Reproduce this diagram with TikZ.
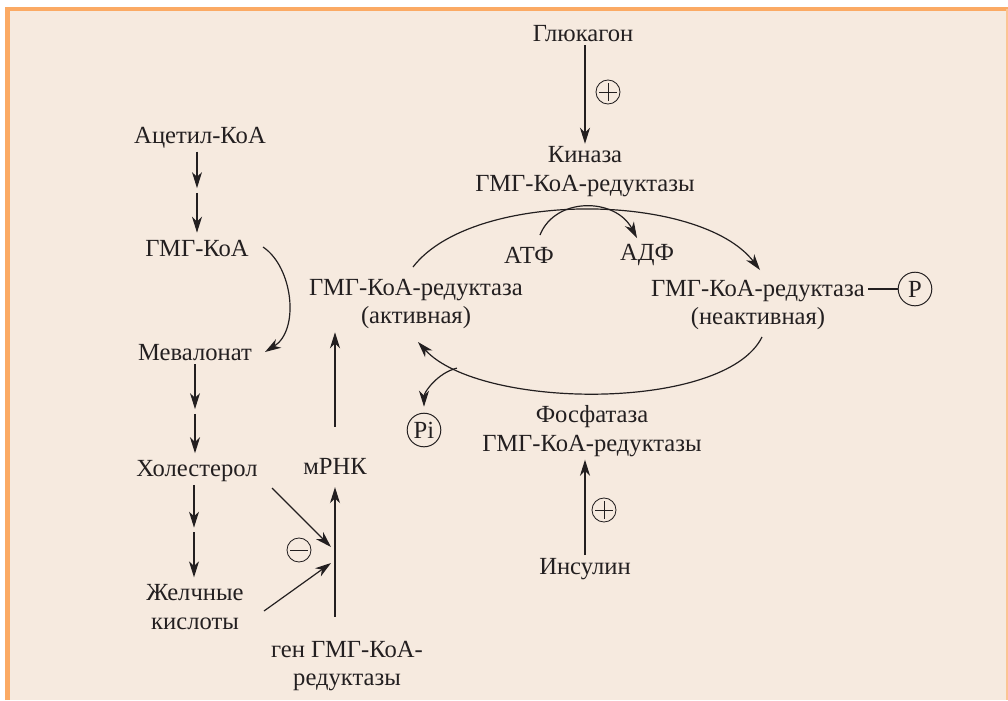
\documentclass[tikz,border=0pt]{standalone}
\usepackage{fontspec}
\setmainfont{Liberation Serif}
\usetikzlibrary{calc, positioning, arrows.meta}
\definecolor{FrameColour}{RGB}{251,170,100}
\definecolor{paper}{RGB}{246,234,223}
\definecolor{ink}{RGB}{35,31,32}

\begin{document}
\begin{tikzpicture}[
  x=0.025cm, y=-0.025cm,
  font=\fontsize{17.5}{20.5}\selectfont,
  text=ink,
  metab/.style={inner sep=2pt, align=center},
  arr/.style={draw=ink, line width=0.85pt, -{Stealth[length=0.4cm, width=0.25cm, inset=0.12cm]}},
  conn/.style={draw=ink, line width=0.85pt},
  sign/.style={circle, draw=ink, line width=0.6pt, minimum size=0.6cm, inner sep=0pt},
  signplus/.style={sign, path picture={
    \draw[ink, line width=0.6pt]
      ([xshift=0.08cm]path picture bounding box.west) -- ([xshift=-0.08cm]path picture bounding box.east)
      ([yshift=-0.08cm]path picture bounding box.north) -- ([yshift=0.08cm]path picture bounding box.south);}},
  signminus/.style={sign, path picture={
    \draw[ink, line width=0.6pt]
      ([xshift=0.08cm]path picture bounding box.west) -- ([xshift=-0.08cm]path picture bounding box.east);}},
  phosgroup/.style={circle, draw=ink, line width=0.7pt, inner sep=1pt, minimum size=0.84cm}
]
\useasboundingbox (0,0) rectangle (1008,700);

% Panel
\fill[paper] (7.5,9) rectangle (1008,700);
\draw[FrameColour, line width=0.11cm] (7.5,700) -- (7.5,9) -- (1008,9);
\draw[FrameColour!70, line width=0.04cm] (1007,9) -- (1007,700);

% Synthesis pathway
\node[metab] (acetyl) at (200,138) {Ацетил-КоА};
\node[metab] (hmgcoa) at (197,248) {ГМГ-КоА};
\node[metab] (mev) at (195,353) {Мевалонат};
\node[metab] (chol) at (197,471) {Холестерол};
\node[metab] (bile) at (195,607) {Желчные\\кислоты};

\coordinate (s1) at (197,190.5);
\coordinate (s2) at (195,411.5);
\coordinate (s3) at (194,530);
\draw[arr, shorten >=0.06cm] (acetyl.south -| s1) -- (s1);
\draw[arr, shorten <=0.06cm, shorten >=0.1cm] (s1) -- (hmgcoa.north -| s1);
\draw[arr] ([shift={(66,-1)}]hmgcoa.center) .. controls +(30,20) and +(35,-22) .. ([shift={(70,-1)}]mev.center);
\draw[arr, shorten >=0.06cm] (mev.south -| s2) -- (s2);
\draw[arr, shorten <=0.06cm, shorten >=0.1cm] (s2) -- (chol.north -| s2);
\draw[arr, shorten >=0.06cm] (chol.south -| s3) -- (s3);
\draw[arr, shorten <=0.06cm, shorten >=0.1cm] (s3) -- (bile.north -| s3);

% Gene expression
\node[metab] (mrna) at (335,466) {мРНК};
\node[metab] (gene) at (347,666) {ген ГМГ-КоА-\\редуктазы};
\node[signminus] (minus) at (299,550) {};
\coordinate (inh1) at (331,547);
\coordinate (inh2) at (331,563);
\draw[arr, shorten <=0.52cm, shorten >=0.25cm] (gene.north -| mrna) -- (mrna.south);
\draw[arr] ([shift={(75,17)}]chol.center) -- (inh1);
\draw[arr] ([shift={(69,4)}]bile.center) -- (inh2);

% Kinase / phosphatase cycle
\node[metab] (gluc) at (583,34) {Глюкагон};
\node[signplus] (plusA) at (608,92) {};
\node[metab] (kin) at (585,172) {Киназа\\ГМГ-КоА-редуктазы};
\node[metab] (atp) at (529,255) {АТФ};
\node[metab] (adp) at (647,255) {АДФ};
\node[metab] (act) at (416,304) {ГМГ-КоА-редуктаза\\(активная)};
\node[metab] (inact) at (758,305) {ГМГ-КоА-редуктаза\\(неактивная)};
\node[phosgroup] (P) at (915,289) {P};
\node[phosgroup] (pi) at (424,430) {Pi};
\node[metab] (phos) at (592,431) {Фосфатаза\\ГМГ-КоА-редуктазы};
\node[signplus] (plusB) at (604,510) {};
\node[metab] (ins) at (585,569) {Инсулин};

\draw[arr, shorten <=0.7cm] (mrna.north) -- (mrna.north |- act.south);
\draw[conn] (P.west) -- (P.west -| inact.east);
\draw[arr] (gluc.south -| kin) -- (kin.north);
\draw[arr] ([shift={(-3,-37)}]act.center) .. controls +(60,-78) and +(-60,-78) .. ([shift={(2,-35)}]inact.center);
\draw[arr] ([shift={(11,-20)}]atp.center) .. controls +(15,-38) and +(-22,-41) .. ([shift={(-10,-17)}]adp.center);
\draw[arr] ([shift={(4,32)}]inact.center) .. controls +(-37,75) and +(62,68) .. ([shift={(2,38)}]act.center)
  coordinate[pos=0.85] (pibr);
\draw[arr, shorten >=0.15cm] (pibr) .. controls +(-20,5) and +(0,-20) .. (pi.north);
\draw[arr] (ins.north) -- (ins.north |- phos.south);
\end{tikzpicture}
\end{document}
